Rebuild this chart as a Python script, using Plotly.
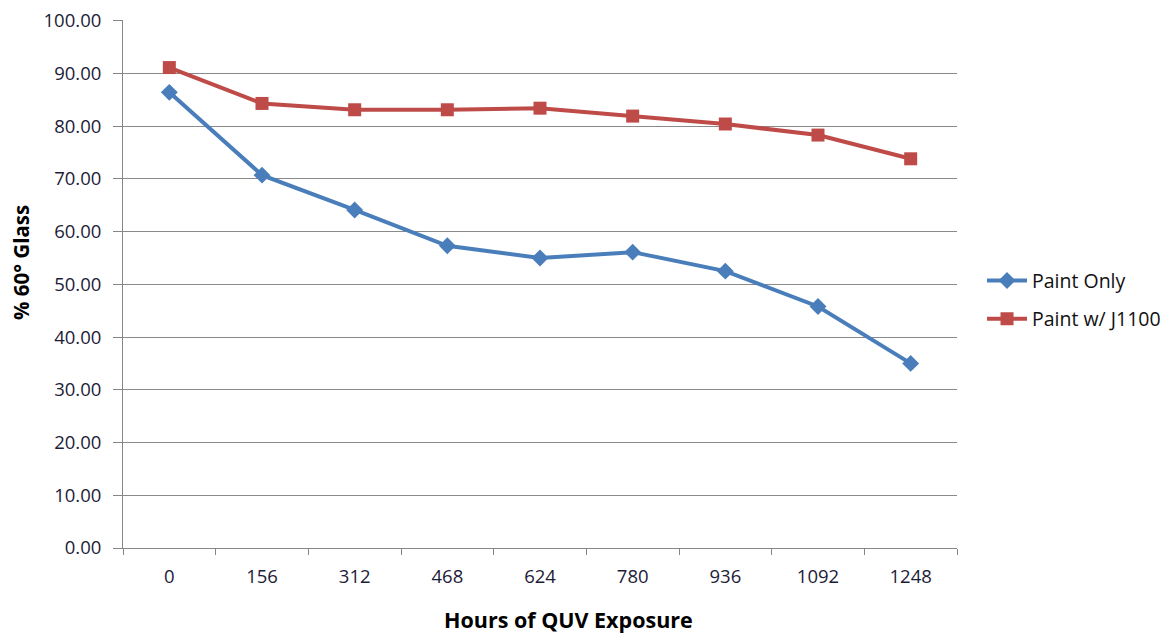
import plotly.graph_objects as go

hours = ["0", "156", "312", "468", "624", "780", "936", "1092", "1248"]
paint_only = [86.4, 70.7, 64.1, 57.3, 55.0, 56.1, 52.5, 45.8, 35.0]
paint_j1100 = [91.1, 84.3, 83.1, 83.1, 83.4, 81.9, 80.4, 78.3, 73.8]
y_ticks = [0, 10, 20, 30, 40, 50, 60, 70, 80, 90, 100]

font_family = "Open Sans, Liberation Sans, sans-serif"

fig = go.Figure()
fig.add_trace(go.Scatter(
    x=hours, y=paint_only, name="Paint Only", mode="lines+markers",
    legendgroup="a",
    line=dict(color="#4a7ebb", width=4),
    marker=dict(symbol="diamond", size=13, color="#4a7ebb"),
))
fig.add_trace(go.Scatter(
    x=hours, y=paint_j1100, name="Paint w/ J1100", mode="lines+markers",
    legendgroup="b",
    line=dict(color="#be4b48", width=4),
    marker=dict(symbol="square", size=13, color="#be4b48"),
))

fig.update_layout(
    width=1170, height=636,
    margin=dict(l=115, r=221, t=12, b=96, autoexpand=False),
    paper_bgcolor="white", plot_bgcolor="white",
    font=dict(family=font_family, size=18, color="#1c1c38"),
    showlegend=True,
    legend=dict(x=1.03, y=0.47, xanchor="left", yanchor="middle",
                font=dict(size=19.5, color="#111"), itemwidth=40,
                tracegroupgap=10, bgcolor="rgba(0,0,0,0)"),
    xaxis=dict(
        type="category", range=[-0.5, 8.5], automargin=False,
        showline=True, linecolor="#868686", linewidth=1,
        ticks="outside", tickson="boundaries", ticklen=6, tickcolor="#868686",
        showgrid=False, ticklabelstandoff=12,
        tickfont=dict(size=18.5),
    ),
    yaxis=dict(
        range=[0, 100.12], tickvals=y_ticks, tickformat=".2f", automargin=False,
        showline=True, linecolor="#868686", linewidth=1,
        ticks="outside", ticklen=9, tickcolor="#868686",
        showgrid=True, gridcolor="#8a8a8a", gridwidth=1,
        zeroline=False, ticklabelstandoff=8, ticklabeloverflow="allow",
        tickfont=dict(size=18.5),
    ),
    annotations=[
        dict(text="<b>Hours of QUV Exposure</b>", xref="paper", yref="paper",
             x=(568 - 123) / (957 - 123), y=-(620 - 548) / 528, xanchor="center",
             yanchor="middle", showarrow=False, font=dict(size=21.5, color="#000")),
        dict(text="<b>% 60° Glass</b>", xref="paper", yref="paper",
             x=-(123 - 21) / (957 - 123), y=(548 - 263) / 528, xanchor="center",
             yanchor="middle", textangle=-90, showarrow=False,
             font=dict(size=20.5, color="#000")),
    ],
)

fig.write_html("out.html")
